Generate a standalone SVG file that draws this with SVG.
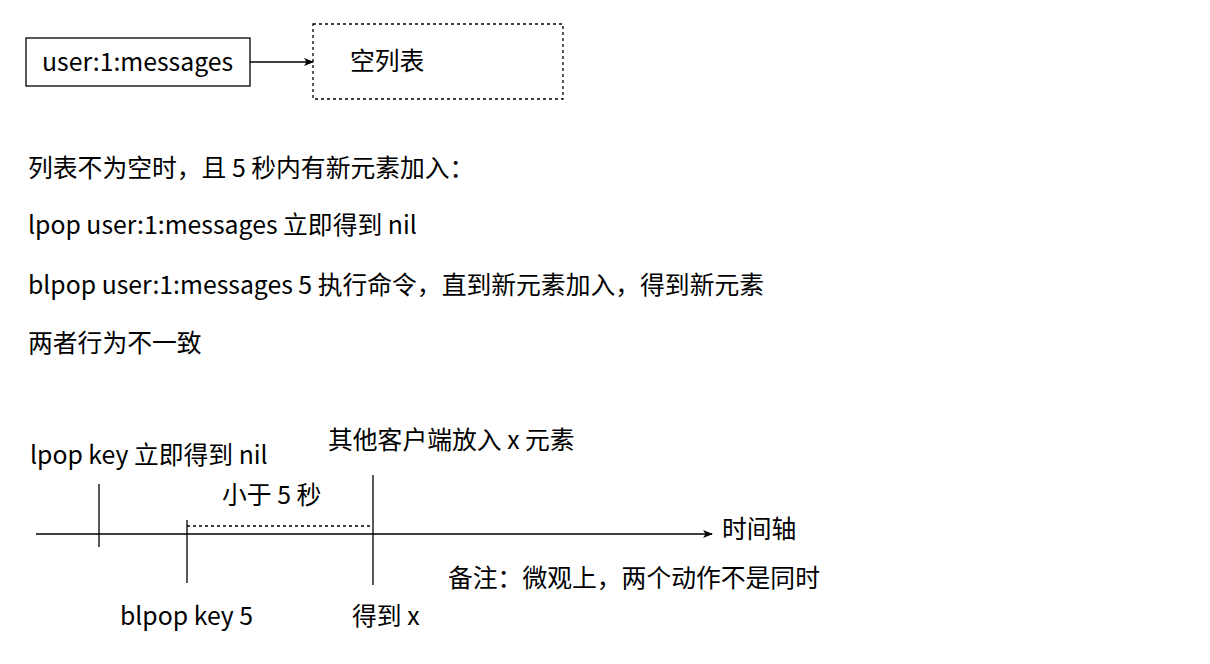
<svg xmlns="http://www.w3.org/2000/svg" width="1210" height="664" viewBox="0 0 1210 664">
<style>
text{font-family:"Noto Sans CJK SC","Noto Sans",sans-serif;font-size:24.8px;fill:#000}
.l{stroke:#000;stroke-width:1.3;fill:none}
</style>
<defs><marker id="a" markerWidth="10" markerHeight="8" refX="9" refY="4" orient="auto" markerUnits="userSpaceOnUse"><path d="M0,0L10,4L0,8L2.5,4Z" fill="#000"/></marker></defs>
<rect width="1210" height="664" fill="#fff"/>
<g id="n1"><rect class="l" x="26" y="38" width="224" height="48"/><text x="42" y="71">user:1:messages</text></g>
<g id="n2"><rect class="l" x="313" y="24" width="250" height="75" stroke-dasharray="3,3"/><text x="350" y="70">空列表</text></g>
<g id="connectors">
<line class="l" x1="250" y1="62" x2="313" y2="62" marker-end="url(#a)"/>
<line class="l" x1="36" y1="534" x2="712" y2="534" marker-end="url(#a)"/>
<line class="l" x1="99" y1="484" x2="99" y2="547"/>
<line class="l" x1="187" y1="520" x2="187" y2="583"/>
<line class="l" x1="373" y1="475" x2="373" y2="585"/>
<line class="l" x1="187" y1="526" x2="373" y2="526" stroke-dasharray="3,3"/>
</g>
<text x="28" y="177">列表不为空时，且 5 秒内有新元素加入：</text>
<text x="28" y="234">lpop user:1:messages 立即得到 nil</text>
<text x="28" y="294">blpop user:1:messages 5 执行命令，直到新元素加入，得到新元素</text>
<text x="28" y="352">两者行为不一致</text>
<text x="30" y="464">lpop key 立即得到 nil</text>
<text x="328" y="449">其他客户端放入 x 元素</text>
<text x="222" y="504">小于 5 秒</text>
<text x="722" y="538">时间轴</text>
<text x="448" y="587">备注：微观上，两个动作不是同时</text>
<text x="120" y="625">blpop key 5</text>
<text x="352" y="625">得到 x</text>
</svg>
